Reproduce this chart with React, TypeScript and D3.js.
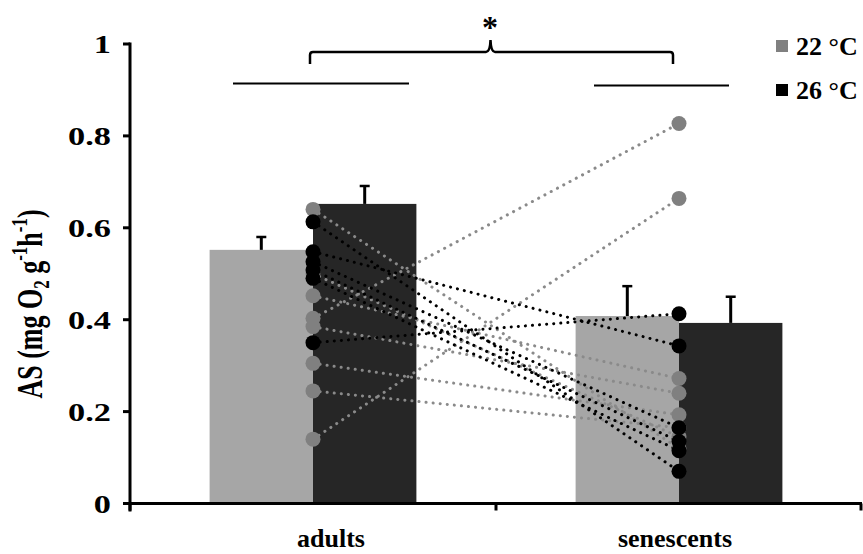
import React from 'react';
import * as d3 from 'd3';

// ---- data ----
const categories = ['adults', 'senescents'];
const temps = ['22 °C', '26 °C'];
const means22 = [0.552, 0.408];
const means26 = [0.652, 0.393];
const se22 = [0.028, 0.065];
const se26 = [0.039, 0.057];
// paired individuals (adults -> senescents)
const adults22 = [0.64, 0.452, 0.403, 0.385, 0.305, 0.245, 0.14, 0.5];
const senescents22 = [0.12, 0.272, 0.827, 0.24, 0.193, 0.165, 0.664, 0.145];
const adults26 = [0.613, 0.548, 0.526, 0.508, 0.49, 0.35];
const senescents26 = [0.07, 0.343, 0.165, 0.135, 0.115, 0.413];
const yTicks = [0, 0.2, 0.4, 0.6, 0.8, 1];
const yTickLabels = ['0', '0.2', '0.4', '0.6', '0.8', '1'];

const W = 863;
const H = 554;
const FONT = '"Liberation Serif", "Times New Roman", serif';
const LIGHT = '#a6a6a6';
const DARK = '#262626';
const GRAYDOT = '#808080';

export default function App() {
  const y = d3.scaleLinear().domain([0, 1]).range([503.5, 44]);
  const x = d3.scaleBand<string>().domain(categories).range([130, 862]).paddingInner(0.435).paddingOuter(0.2175);
  const xs = d3.scaleBand<string>().domain(temps).range([0, x.bandwidth()]);
  const center = (c: string) => (x(c) as number) + x.bandwidth() / 2;
  const means = [means22, means26];
  const ses = [se22, se26];
  const colors = [LIGHT, DARK];

  const lineGen = d3.line<[number, number]>().x((d) => d[0]).y((d) => d[1]);
  const xA = center('adults');
  const xS = center('senescents');

  const labelOffsets = [18, -4];

  return (
    <svg width={W} height={H} style={{ position: 'absolute', left: 0, top: 0, background: '#fff' }}>
      <rect x={0} y={0} width={W} height={H} fill="#fff" />
      {/* bars */}
      {categories.map((c, i) =>
        temps.map((t, j) => (
          <rect
            key={c + t}
            x={(x(c) as number) + (xs(t) as number)}
            y={y(means[j][i])}
            width={xs.bandwidth()}
            height={y(0) - y(means[j][i])}
            fill={colors[j]}
          />
        ))
      )}
      {/* error bars */}
      {categories.map((c, i) =>
        temps.map((t, j) => {
          const cx = (x(c) as number) + (xs(t) as number) + xs.bandwidth() / 2;
          const top = y(means[j][i] + ses[j][i]);
          return (
            <g key={'e' + c + t} stroke="#000" strokeWidth={3}>
              <line x1={cx} x2={cx} y1={y(means[j][i])} y2={top} />
              <line x1={cx - 5} x2={cx + 5} y1={top} y2={top} strokeWidth={2.5} />
            </g>
          );
        })
      )}
      {/* paired lines */}
      {adults22.map((v, i) => (
        <path
          key={'g' + i}
          d={lineGen([[xA, y(v)], [xS, y(senescents22[i])]]) as string}
          fill="none"
          stroke="#8a8a8a"
          strokeWidth={3}
          strokeDasharray="0.1 7"
          strokeLinecap="round"
        />
      ))}
      {adults26.map((v, i) => (
        <path
          key={'b' + i}
          d={lineGen([[xA, y(v)], [xS, y(senescents26[i])]]) as string}
          fill="none"
          stroke="#000"
          strokeWidth={3}
          strokeDasharray="0.1 7"
          strokeLinecap="round"
        />
      ))}
      {/* dots */}
      {adults22.map((v, i) => (
        <circle key={'ga' + i} cx={xA} cy={y(v)} r={7.5} fill={GRAYDOT} />
      ))}
      {senescents22.map((v, i) => (
        <circle key={'gs' + i} cx={xS} cy={y(v)} r={7.5} fill={GRAYDOT} />
      ))}
      {adults26.map((v, i) => (
        <circle key={'ba' + i} cx={xA} cy={y(v)} r={7.5} fill="#000" />
      ))}
      {senescents26.map((v, i) => (
        <circle key={'bs' + i} cx={xS} cy={y(v)} r={7.5} fill="#000" />
      ))}
      {/* y axis */}
      <line x1={130} x2={130} y1={y(1) - 1.5} y2={y(0) + 8} stroke="#000" strokeWidth={3} />
      {yTicks.map((t, i) => (
        <g key={'yt' + i}>
          <line x1={123} x2={130} y1={y(t)} y2={y(t)} stroke="#000" strokeWidth={3} />
          <g transform={`translate(111,${y(t)}) scale(1.32,1)`}>
            <text
              x={0}
              y={0}
              dy="0.35em"
              textAnchor="end"
              fontFamily={FONT}
              fontWeight="bold"
              fontSize={26}
              fill="#000"
            >
              {yTickLabels[i]}
            </text>
          </g>
        </g>
      ))}
      {/* x axis */}
      <line x1={128.5} x2={862} y1={y(0)} y2={y(0)} stroke="#000" strokeWidth={3} />
      {[130, (x('senescents') as number) - (x.step() - x.bandwidth()) / 2, 861].map((p, i) => (
        <line key={'xt' + i} x1={p} x2={p} y1={y(0)} y2={y(0) + 7} stroke="#000" strokeWidth={3} />
      ))}
      {categories.map((c, i) => (
        <text
          key={'xl' + c}
          x={center(c) + labelOffsets[i]}
          y={547}
          textAnchor="middle"
          fontFamily={FONT}
          fontWeight="bold"
          fontSize={26}
          fill="#000"
        >
          {c}
        </text>
      ))}
      {/* y label */}
      <text
        transform="translate(42,304) scale(1.35,1) rotate(-90)"
        textAnchor="middle"
        fontFamily={FONT}
        fontWeight="bold"
        fontSize={26}
        fill="#000"
      >
        AS (mg O
        <tspan fontSize={17} dy={5}>2</tspan>
        <tspan dy={-5}> g</tspan>
        <tspan fontSize={17} dy={-11}>-1</tspan>
        <tspan dy={11}>h</tspan>
        <tspan fontSize={17} dy={-11}>-1</tspan>
        <tspan dy={11}>)</tspan>
      </text>
      {/* significance */}
      <line x1={233} x2={409} y1={83.5} y2={83.5} stroke="#000" strokeWidth={2} />
      <line x1={594} x2={729} y1={85.5} y2={85.5} stroke="#000" strokeWidth={2} />
      <path
        d="M310,64 L310,55 Q310,52 313,52 L486,52 Q490,52 490.5,40 Q491,52 495,52 L670,52 Q673,52 673,55 L673,64"
        fill="none"
        stroke="#000"
        strokeWidth={2.5}
      />
      <text x={490} y={38} textAnchor="middle" fontFamily={FONT} fontWeight="bold" fontSize={32} fill="#000">
        *
      </text>
      {/* legend */}
      {temps.map((t, i) => (
        <g key={'lg' + t}>
          <rect x={776} y={40 + i * 44} width={12} height={12} fill={i === 0 ? GRAYDOT : '#000'} />
          <text
            x={796}
            y={46 + i * 44}
            dy="0.35em"
            fontFamily={FONT}
            fontWeight="bold"
            fontSize={26}
            fill="#000"
          >
            {t}
          </text>
        </g>
      ))}
    </svg>
  );
}
